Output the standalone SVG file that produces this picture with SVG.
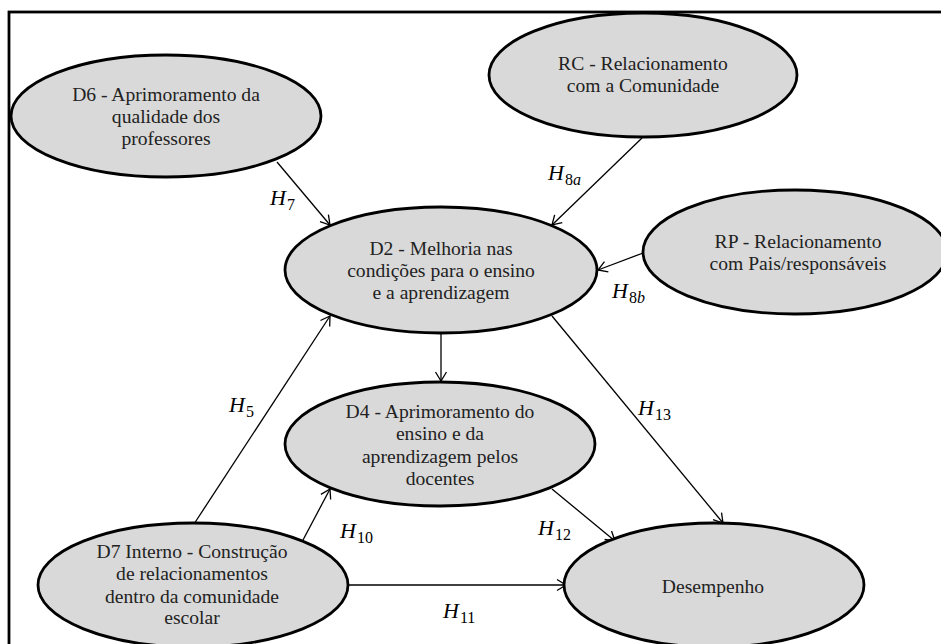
<svg xmlns="http://www.w3.org/2000/svg" width="941" height="644" viewBox="0 0 941 644">
<style>
.node ellipse{fill:#d9d9d9;stroke:#000;stroke-width:2.8}
.edges line{stroke:#000;stroke-width:1.3;fill:none;marker-end:url(#arr)}
</style>
<defs>
<marker id="arr" viewBox="-11 -7 13 14" markerWidth="13" markerHeight="14" refX="0" refY="0" orient="auto" markerUnits="userSpaceOnUse">
<path d="M-9,-5.5 L0,0 L-9,5.5" fill="none" stroke="#000" stroke-width="1.3"/>
</marker>
</defs>
<rect x="0" y="0" width="941" height="644" fill="#fff"/>
<rect x="9" y="12" width="960" height="660" fill="none" stroke="#000" stroke-width="2.8"/>

<g class="edges">
<line x1="277" y1="162" x2="330" y2="225"/>
<line x1="642" y1="138" x2="552" y2="225"/>
<line x1="643" y1="253" x2="598" y2="270"/>
<line x1="441" y1="334" x2="441" y2="381"/>
<line x1="552" y1="316" x2="723" y2="523"/>
<line x1="194" y1="524" x2="330" y2="316"/>
<line x1="303" y1="540" x2="330" y2="489"/>
<line x1="552" y1="489" x2="615" y2="541"/>
<line x1="348" y1="585" x2="566" y2="585"/>
</g>

<g font-size="19.6" fill="#222" text-anchor="middle">
<g id="D6" class="node">
<ellipse cx="166" cy="116" rx="155" ry="61"/>
<text font-family="Liberation Serif" x="166" y="101">D6 - Aprimoramento da</text>
<text font-family="Liberation Serif" x="166" y="123">qualidade dos</text>
<text font-family="Liberation Serif" x="166" y="145">professores</text>
</g>
<g id="RC" class="node">
<ellipse cx="643" cy="75" rx="154" ry="62"/>
<text font-family="Liberation Serif" x="643" y="70">RC - Relacionamento</text>
<text font-family="Liberation Serif" x="643" y="92">com a Comunidade</text>
</g>
<g id="D2" class="node">
<ellipse cx="441" cy="270" rx="156" ry="63"/>
<text font-family="Liberation Serif" x="441" y="255">D2 - Melhoria nas</text>
<text font-family="Liberation Serif" x="441" y="277">condições para o ensino</text>
<text font-family="Liberation Serif" x="441" y="299">e a aprendizagem</text>
</g>
<g id="RP" class="node">
<ellipse cx="795" cy="252" rx="152" ry="62"/>
<text font-family="Liberation Serif" x="798" y="248">RP - Relacionamento</text>
<text font-family="Liberation Serif" x="798" y="270">com Pais/responsáveis</text>
</g>
<g id="D4" class="node">
<ellipse cx="440" cy="444" rx="155" ry="62"/>
<text font-family="Liberation Serif" x="440" y="418">D4 - Aprimoramento do</text>
<text font-family="Liberation Serif" x="440" y="440">ensino e da</text>
<text font-family="Liberation Serif" x="440" y="463">aprendizagem pelos</text>
<text font-family="Liberation Serif" x="440" y="485">docentes</text>
</g>
<g id="D7" class="node">
<ellipse cx="193" cy="585" rx="155" ry="62"/>
<text font-family="Liberation Serif" x="192" y="558">D7 Interno - Construção</text>
<text font-family="Liberation Serif" x="192" y="580">de relacionamentos</text>
<text font-family="Liberation Serif" x="192" y="603">dentro da comunidade</text>
<text font-family="Liberation Serif" x="192" y="624">escolar</text>
</g>
<g id="Desempenho" class="node">
<ellipse cx="714" cy="585" rx="150" ry="62"/>
<text font-family="Liberation Serif" x="713" y="593">Desempenho</text>
</g>
</g>

<g id="labels" font-size="22" font-style="italic" fill="#000">
<text font-family="Liberation Serif" x="270" y="205">H<tspan font-size="16" font-style="normal" dx="1" dy="5">7</tspan></text>
<text font-family="Liberation Serif" x="548" y="180">H<tspan font-size="16" font-style="normal" dx="1" dy="5">8</tspan><tspan font-size="16">a</tspan></text>
<text font-family="Liberation Serif" x="612" y="298">H<tspan font-size="16" font-style="normal" dx="1" dy="5">8</tspan><tspan font-size="16">b</tspan></text>
<text font-family="Liberation Serif" x="229" y="412">H<tspan font-size="16" font-style="normal" dx="1" dy="5">5</tspan></text>
<text font-family="Liberation Serif" x="638" y="415">H<tspan font-size="16" font-style="normal" dx="1" dy="5">13</tspan></text>
<text font-family="Liberation Serif" x="340" y="538">H<tspan font-size="16" font-style="normal" dx="1" dy="5">10</tspan></text>
<text font-family="Liberation Serif" x="538" y="535">H<tspan font-size="16" font-style="normal" dx="1" dy="5">12</tspan></text>
<text font-family="Liberation Serif" x="443" y="618">H<tspan font-size="16" font-style="normal" dx="1" dy="5">11</tspan></text>
</g>
</svg>
